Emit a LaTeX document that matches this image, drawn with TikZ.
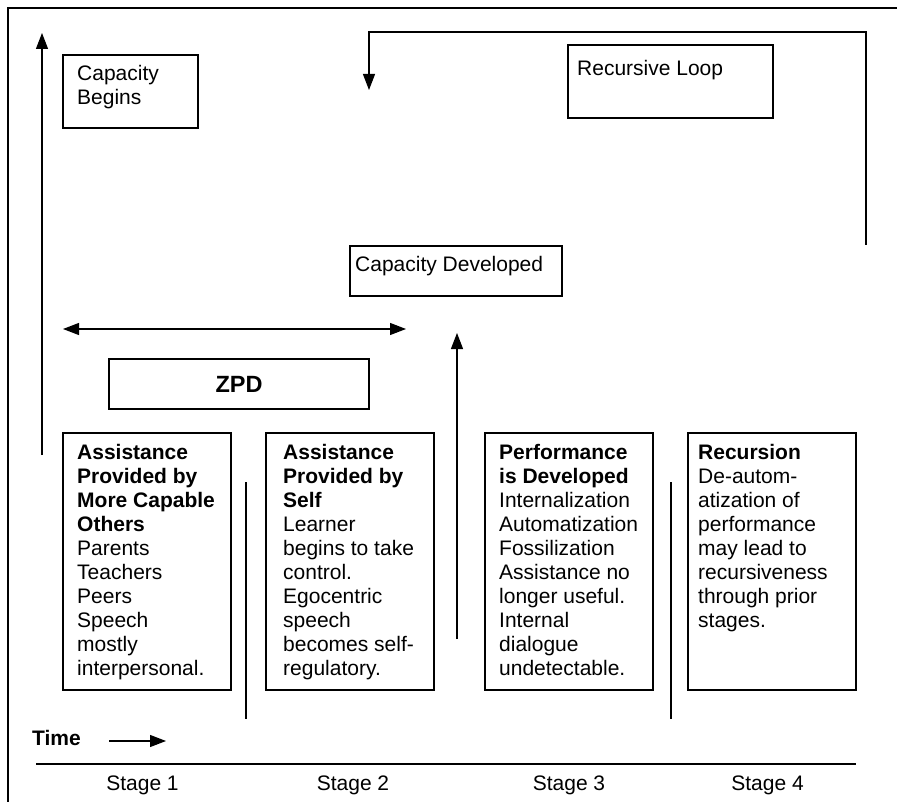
\documentclass[tikz,border=0pt]{standalone}
\usepackage{fontspec}
\setmainfont{Liberation Sans}
\usetikzlibrary{arrows.meta}

\begin{document}
\begin{tikzpicture}[
  x=1pt,y=-1pt,
  line cap=butt,line join=miter,
  font=\fontsize{21}{24}\selectfont,
  box/.style={draw,line width=1.2pt,inner sep=0pt},
  stagebox/.style={box,minimum width=168pt,minimum height=257pt},
  txt/.style={anchor=north west,inner sep=0pt,align=left},
  stagelabel/.style={anchor=base,inner sep=0pt},
  rule/.style={line width=1.2pt},
  arrow/.style={-{Triangle[length=16pt,width=12pt]},line width=1.2pt},
  biarrow/.style={{Triangle[length=16pt,width=12pt]}-{Triangle[length=16pt,width=12pt]},
                  line width=1.2pt}
]
\useasboundingbox (0,0) rectangle (897,802);

% frame
\coordinate (framebl) at (8,802);
\coordinate (frametl) at (8,8);
\coordinate (frametr) at (897,8);
\draw[rule] (framebl) -- (frametl) -- (frametr);

% capacity axis
\coordinate (capbase) at (42,455);
\coordinate (captop) at (42,33);
\draw[arrow] (capbase) -- (captop);

\node[box,minimum width=135pt,minimum height=73pt] (begins) at (130.5,91.5) {};
\node[txt] (beginstext) at (77,65) {Capacity\\Begins};

% recursive loop
\node[box,minimum width=205pt,minimum height=73pt] (loop) at (670.5,81.5) {};
\node[txt] (looptext) at (577,60) {Recursive Loop};
\coordinate (loopstart) at (866,245);
\coordinate (looptop) at (866,32);
\coordinate (loopend) at (369,90);
\draw[arrow] (loopstart) -- (looptop) -| (loopend);

\node[box,minimum width=212pt,minimum height=50pt] (developed) at (456,271) {};
\node[txt] (developedtext) at (355,256) {Capacity Developed};

% ZPD
\coordinate (zpdleft) at (63,329);
\coordinate (zpdright) at (406,329);
\draw[biarrow] (zpdleft) -- (zpdright);
\node[box,minimum width=260pt,minimum height=50pt,
      font=\fontsize{23.5}{28}\selectfont\bfseries] (zpd) at (239,384) {ZPD};

\coordinate (devbase) at (457,639);
\coordinate (devtop) at (457,333);
\draw[arrow] (devbase) -- (devtop);

% stage boxes
\node[stagebox] (others) at (147,561.5) {};
\node[txt] (otherstext) at (77,444)
  {\textbf{Assistance}\\\textbf{Provided by}\\\textbf{More Capable}\\\textbf{Others}\\
   Parents\\Teachers\\Peers\\Speech\\mostly\\interpersonal.};
\node[stagebox] (self) at (350,561.5) {};
\node[txt] (selftext) at (283,444)
  {\textbf{Assistance}\\\textbf{Provided by}\\\textbf{Self}\\
   Learner\\begins to take\\control.\\Egocentric\\speech\\becomes self-\\regulatory.};
\node[stagebox] (perf) at (569,561.5) {};
\node[txt] (perftext) at (499,444)
  {\textbf{Performance}\\\textbf{is Developed}\\
   Internalization\\Automatization\\Fossilization\\Assistance no\\longer useful.\\
   Internal\\dialogue\\undetectable.};
\node[stagebox] (recur) at (772,561.5) {};
\node[txt] (recurtext) at (698,444)
  {\textbf{Recursion}\\
   De-autom-\\atization of\\performance\\may lead to\\recursiveness\\through prior\\stages.};

% separators
\coordinate (sepatop) at (246,482);
\coordinate (sepabot) at (246,719);
\draw[rule] (sepatop) -- (sepabot);
\coordinate (sepbtop) at (671,482);
\coordinate (sepbbot) at (671,719);
\draw[rule] (sepbtop) -- (sepbbot);

% time axis
\node[anchor=base west,inner sep=0pt,font=\fontsize{21}{24}\selectfont\bfseries]
  (time) at (32,745) {Time};
\coordinate (timestart) at (109,741);
\coordinate (timeend) at (166,741);
\draw[arrow] (timestart) -- (timeend);
\coordinate (axisleft) at (36,764);
\coordinate (axisright) at (856,764);
\draw[rule] (axisleft) -- (axisright);

\node[stagelabel] (stagea) at (142.5,790) {Stage 1};
\node[stagelabel] (stageb) at (353,790) {Stage 2};
\node[stagelabel] (stagec) at (569,790) {Stage 3};
\node[stagelabel] (staged) at (767.5,790) {Stage 4};
\end{tikzpicture}
\end{document}
